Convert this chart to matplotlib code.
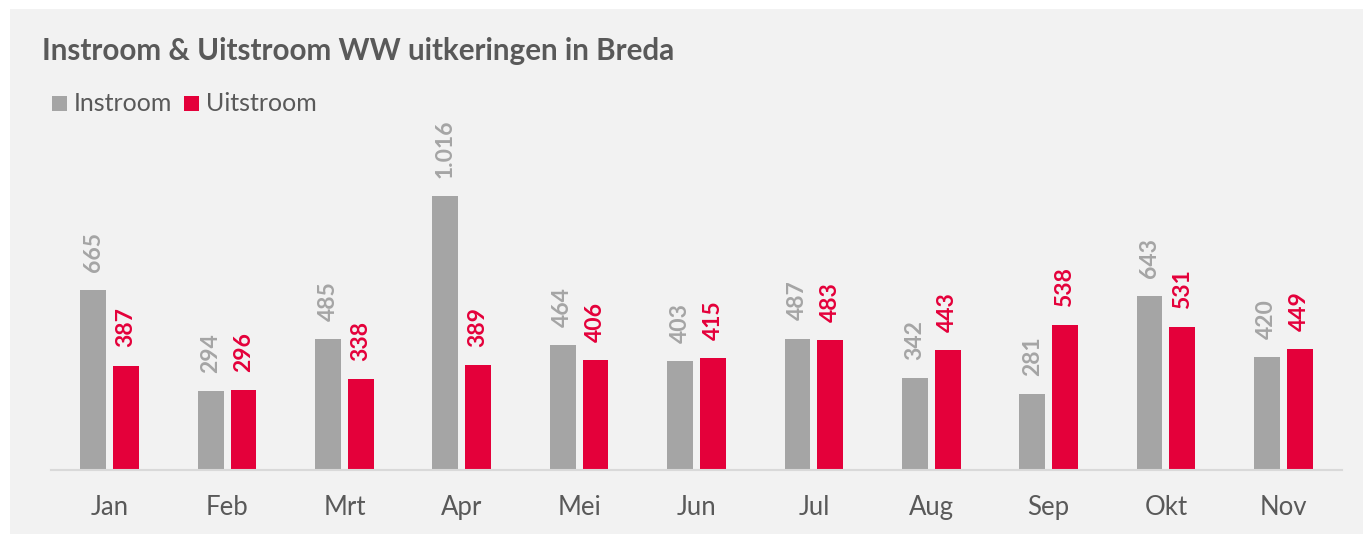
import matplotlib.pyplot as plt
from matplotlib.patches import Rectangle

months = ["Jan", "Feb", "Mrt", "Apr", "Mei", "Jun", "Jul", "Aug", "Sep", "Okt", "Nov"]
instroom = [665, 294, 485, 1016, 464, 403, 487, 342, 281, 643, 420]
uitstroom = [387, 296, 338, 389, 406, 415, 483, 443, 538, 531, 449]

GREY = "#A5A5A5"
RED = "#E4003A"
TEXT = "#595959"


def fmt(v):
    return f"{v:,}".replace(",", ".")


def main():
    plt.rcParams["font.family"] = ["Lato", "DejaVu Sans"]
    W, H = 1363, 534
    fig = plt.figure(figsize=(W / 100, H / 100), dpi=100)
    fig.patch.set_facecolor("white")
    fig.patches.append(Rectangle((10 / W, 0), 1 - 10 / W, 1 - 9 / H, transform=fig.transFigure,
                                 facecolor="#F2F2F2", edgecolor="none", zorder=-10))

    ax = fig.add_axes([51 / W, 64 / H, 1291 / W, 324 / H])
    ax.set_zorder(5)
    ax.set_facecolor("none")
    x = list(range(len(months)))
    bw = 0.22
    off = 0.14
    ax.bar([i - off for i in x], instroom, width=bw, color=GREY, zorder=2)
    ax.bar([i + off for i in x], uitstroom, width=bw, color=RED, zorder=2)

    for i in x:
        ax.annotate(fmt(instroom[i]), (i - off, instroom[i]), xytext=(0, 13), textcoords="offset points",
                    rotation=90, ha="center", va="bottom", fontsize=16.5, fontweight="bold", color=GREY)
        ax.annotate(fmt(uitstroom[i]), (i + off, uitstroom[i]), xytext=(0, 13), textcoords="offset points",
                    rotation=90, ha="center", va="bottom", fontsize=16.5, fontweight="bold", color=RED)

    ax.set_xlim(-0.5, len(months) - 0.5)
    ax.set_ylim(0, 1200)
    ax.set_xticks(x)
    ax.set_xticklabels(months, fontsize=18.5, color=TEXT)
    ax.tick_params(axis="x", length=0, pad=18)
    ax.set_yticks([])
    for s in ["top", "right", "left"]:
        ax.spines[s].set_visible(False)
    ax.spines["bottom"].set_color("#D9D9D9")
    ax.spines["bottom"].set_linewidth(1.5)

    fig.text(42 / W, 1 - 60 / H, "Instroom & Uitstroom WW uitkeringen in Breda", fontsize=21.3,
             fontweight="bold", color=TEXT, ha="left", va="baseline")

    # legend
    fig.patches.append(Rectangle((52 / W, 1 - 111 / H), 15 / W, 15 / H, transform=fig.transFigure,
                                 facecolor=GREY, edgecolor="none"))
    fig.text(74 / W, 1 - 111 / H, "Instroom", fontsize=18, color=TEXT, ha="left", va="baseline")
    fig.patches.append(Rectangle((184 / W, 1 - 111 / H), 15 / W, 15 / H, transform=fig.transFigure,
                                 facecolor=RED, edgecolor="none"))
    fig.text(206 / W, 1 - 111 / H, "Uitstroom", fontsize=18, color=TEXT, ha="left", va="baseline")

    fig.savefig("out.png", dpi=100, facecolor="white")
    plt.close(fig)


if __name__ == "__main__":
    main()
